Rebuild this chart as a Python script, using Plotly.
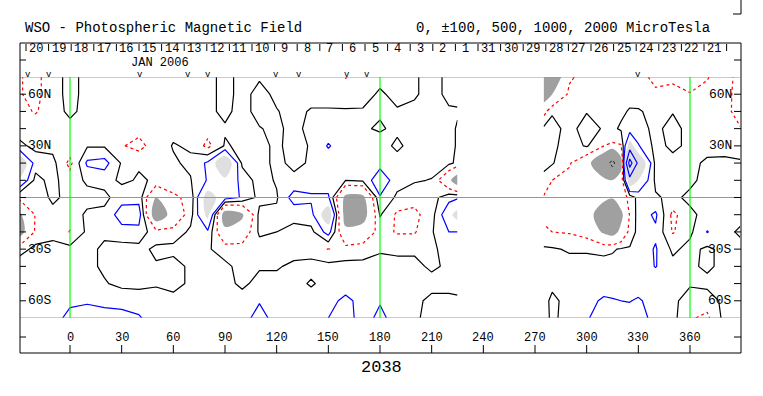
import plotly.graph_objects as go

# ---------------- data ----------------
lats = [70, 60, 50, 40, 30, 20, 10, 0, -10, -20, -30, -40, -50, -60, -70]

# Carrington longitudes of the two observed segments (data gap ~226..273)
lon_left = [-30, -20, -10, 0, 10, 20, 30, 40, 50, 60, 70, 80, 90, 100, 110, 120, 130, 140,
            150, 160, 170, 180, 190, 200, 210, 220, 225]
lon_right = [275, 280, 290, 300, 310, 315, 320, 325, 330, 340, 350, 360, 370, 380, 390]

# photospheric field (microtesla), one list per latitude row
left_n70 = [-90, -130, -40, 30, -30, -40, -40, -40, -40, -40, -40, -30, 30, -30, -10, -30, -40, -40, -40, -105, -40, -30, -30, -10, 30, -20, -30]
left_n60 = [-90, -130, -40, 30, -30, -40, -40, -40, -40, -40, -40, -30, 30, -30, 30, -20, -40, -40, -40, -50, -40, 15, -30, -10, 30, -20, -30]
left_n50 = [-60, -110, -40, 20, -30, -40, -40, -40, -40, -40, -40, -20, 20, -30, 30, 5, -30, 10, 10, 10, 10, 10, 10, 20, 30, 10, 10]
left_n40 = [-30, -40, -30, -30, -40, -40, -60, -60, -40, -20, -10, -60, -10, -30, -5, 20, -30, 30, 40, 40, 10, -10, 20, 30, 30, 30, -10]
left_n30 = [20, -20, -30, -40, -10, -10, -90, -140, -40, 5, -10, -130, 10, -20, -30, 20, -40, 10, 110, 40, 40, 40, -20, 40, 40, 30, -10]
left_n20 = [450, 40, 30, -130, 120, 140, -10, -10, -10, -10, 15, 120, 420, -20, -30, 20, -20, 10, 40, 40, 40, 60, 40, 20, 40, 20, -20]
left_n10 = [250, -30, 30, -60, 20, 40, -20, 10, -10, -10, -5, 110, 220, 60, -40, 10, 20, 30, 30, 0, 20, 180, 40, 10, -5, -250, -450]
left_eq = [-80, -60, 20, -30, -40, -30, 60, 60, -300, -130, -60, 340, 150, 90, -30, -10, 150, 120, 120, -350, -350, 90, -20, -60, -40, 60, 80]
left_s10 = [-350, -90, -30, -60, 20, 30, 150, 160, -450, -220, -40, 300, -420, -330, 30, 20, 30, 60, 380, -400, -400, 10, -120, -130, -40, 200, 320]
left_s20 = [-420, -80, -30, -105, 20, 20, 60, 60, -60, -60, 20, 80, -250, -200, 20, 0, -30, -30, 150, -250, -200, -60, -110, -110, -10, 100, 100]
left_s30 = [-50, 30, 30, 30, 30, -20, -40, -30, 20, 30, 30, 10, -40, -50, -50, -50, -40, -40, -105, -60, -50, -10, -20, -20, -10, 20, 20]
left_s40 = [60, 40, 30, 30, 30, -20, -50, -40, -10, -40, 20, 30, 20, -30, -10, -10, 20, 30, 30, 30, 30, 30, 30, 30, -20, 20, 30]
left_s50 = [40, 40, 40, 40, 40, 10, -30, -30, -10, -40, 20, 40, 30, -20, 30, 30, 30, -10, 30, 40, 40, 40, 40, 40, 40, 40, 40]
left_s60 = [60, 50, 50, 80, 90, 80, 80, 60, 40, 40, 40, 30, 40, 40, 90, 40, 40, 40, 60, 130, 60, 90, 40, 30, -30, -30, -20]
left_s70 = [70, 60, 60, 130, 140, 130, 120, 110, 50, 50, 50, 50, 50, 50, 150, 50, 50, 50, 100, 150, 50, 130, 50, 20, -40, -40, -20]

right_n70 = [-600, -500, -120, -50, -40, -40, -40, -40, -60, -130, -120, -150, -105, -60, -140]
right_n60 = [-450, -300, -70, -40, -40, -40, -40, -40, -50, -80, -70, -95, -80, -70, -140]
right_n50 = [-150, -10, -40, -5, -30, -30, -20, 10, 10, -30, -5, -40, -60, -80, -130]
right_n40 = [20, 30, -30, 40, -10, -20, 15, 30, 30, -20, 30, -30, -60, -50, -100]
right_n30 = [20, 20, -40, 10, -100, -120, -110, 350, 110, -30, 20, -20, -40, -50, -80]
right_n20 = [20, 10, -90, -200, -600, -1200, -400, 1200, 450, -30, -30, -30, 20, 30, 20]
right_n10 = [-20, -100, -130, -150, -250, -280, -180, 400, 250, -20, -30, -20, 30, 40, 30]
right_eq = [-110, -150, -120, -150, -250, -280, -180, -60, 30, 10, -20, 20, 40, 30, 20]
right_s10 = [-150, -130, -110, -200, -450, -600, -350, -90, 40, 120, -130, -20, 30, 30, 30]
right_s20 = [-60, -100, -110, -150, -330, -380, -250, -60, 30, 80, -110, -20, 105, 30, -20]
right_s30 = [10, 10, -10, -10, -20, -10, 10, 10, 40, 110, -20, 30, -20, 30, 30]
right_s40 = [40, 30, 30, 30, 30, 30, 30, 30, 40, 105, 30, 20, -20, 30, 20]
right_s50 = [30, 20, 40, 40, 40, 40, 40, 40, 40, 30, 30, 10, 30, 30, 30]
right_s60 = [30, -20, 30, 60, 120, 110, 100, 95, 115, 50, 20, -40, -60, 30, 30]
right_s70 = [40, -20, 40, 90, 150, 150, 150, 150, 150, 60, 30, -90, -120, 30, 40]

z_left = [left_n70, left_n60, left_n50, left_n40, left_n30, left_n20, left_n10, left_eq,
          left_s10, left_s20, left_s30, left_s40, left_s50, left_s60, left_s70]
z_right = [right_n70, right_n60, right_n50, right_n40, right_n30, right_n20, right_n10, right_eq,
           right_s10, right_s20, right_s30, right_s40, right_s50, right_s60, right_s70]

# header / axis text
title_text = "WSO - Photospheric Magnetic Field"
levels_text = "0, \u00b1100, 500, 1000, 2000 MicroTesla"
day_labels = ["20", "19", "18", "17", "16", "15", "14", "13", "12", "11", "10", "9", "8", "7", "6",
              "5", "4", "3", "2", "1", "31", "30", "29", "28", "27", "26", "25", "24", "23", "22", "21"]
month_label = "JAN 2006"
obs_marks_lon = [-24.4, -12.2, 40.6, 68.5, 80.1, 119.6, 133.0, 160.8, 172.5, 329.8]
lon_ticks = [0, 30, 60, 90, 120, 150, 180, 210, 240, 270, 300, 330, 360]
lat_labels = {60: "60N", 30: "30N", -30: "30S", -60: "60S"}
rotation_label = "2038"

# ---------------- figure ----------------
FONT = "Liberation Mono"
W, H = 763, 396
L, R, T, B = 20, 740, 77, 318   # plot area in pixels
LIGHT, DARK = "#dfdfdf", "#a0a0a0"
SHADE_POS, SHADE_NEG = 250, -300


def PX(x):
    return (x - L) / (R - L)


def PY(y):
    return (B - y) / (B - T)


def field_traces(lon, z):
    base = dict(x=lon, y=lats, showscale=False, hoverinfo="skip")
    z_flip = [[-v for v in row] for row in z]
    # plotly shades the region that fails a constraint: "> v" shades values <= v
    return [
        go.Contour(**base, z=z, contours=dict(type="constraint", operation=">", value=SHADE_NEG),
                   fillcolor=DARK, line=dict(width=0, color="rgba(0,0,0,0)")),
        go.Contour(**base, z=z_flip, contours=dict(type="constraint", operation=">", value=-SHADE_POS),
                   fillcolor=LIGHT, line=dict(width=0, color="rgba(0,0,0,0)")),
        go.Contour(**base, z=z, autocontour=False,
                   contours=dict(coloring="lines", start=0, end=0.5, size=1),
                   colorscale=[[0, "#000000"], [1, "#000000"]], line=dict(width=1.2, smoothing=0)),
        go.Contour(**base, z=z, autocontour=False,
                   contours=dict(coloring="lines", start=100, end=1000, size=450),
                   colorscale=[[0, "#0000ff"], [1, "#0000ff"]], line=dict(width=1.2, smoothing=0)),
        go.Contour(**base, z=z, autocontour=False,
                   contours=dict(coloring="lines", start=-100, end=-99, size=50),
                   colorscale=[[0, "#ff0000"], [1, "#ff0000"]], line=dict(width=1.2, dash="dot", smoothing=0)),
        go.Contour(**base, z=z, autocontour=False,
                   contours=dict(coloring="lines", start=-1000, end=-999, size=50),
                   colorscale=[[0, "#000000"], [1, "#000000"]], line=dict(width=1, dash="dot", smoothing=0)),
    ]


fig = go.Figure()
for tr in field_traces(lon_left, z_left) + field_traces(lon_right, z_right):
    fig.add_trace(tr)

shapes = []
GREEN = "#00ff00"
# green reference grid
for lo in (0, 180, 360):
    shapes.append(dict(type="line", xref="x", yref="y", x0=lo, x1=lo, y0=-70, y1=70,
                       line=dict(color=GREEN, width=1.2)))
for la in (-70, 0, 70):
    shapes.append(dict(type="line", xref="paper", yref="y", x0=0, x1=1, y0=la, y1=la,
                       line=dict(color=GREEN, width=1.2)))
# outer frame
shapes.append(dict(type="rect", xref="paper", yref="paper", x0=PX(20), x1=PX(741), y0=PY(353), y1=PY(43),
                   line=dict(color="black", width=1)))
# stray corner mark top-right
shapes.append(dict(type="line", xref="paper", yref="paper", x0=PX(741), x1=PX(741), y0=PY(0), y1=PY(14),
                   line=dict(color="black", width=1)))
shapes.append(dict(type="line", xref="paper", yref="paper", x0=PX(733), x1=PX(741), y0=PY(14), y1=PY(14),
                   line=dict(color="black", width=1)))
# day separators in header
for k in range(len(day_labels) + 1):
    xx = 26 + 22.6 * k
    shapes.append(dict(type="line", xref="paper", yref="paper", x0=PX(xx), x1=PX(xx), y0=PY(51), y1=PY(44),
                       line=dict(color="black", width=1)))
# border latitude ticks
for la in range(-60, 61, 10):
    shapes.append(dict(type="line", xref="paper", yref="y", x0=PX(20), x1=PX(26), y0=la, y1=la,
                       line=dict(color="black", width=1)))
    shapes.append(dict(type="line", xref="paper", yref="y", x0=PX(734), x1=PX(741), y0=la, y1=la,
                       line=dict(color="black", width=1)))
for yy in (60, 337):
    shapes.append(dict(type="line", xref="paper", yref="paper", x0=PX(20), x1=PX(26), y0=PY(yy), y1=PY(yy),
                       line=dict(color="black", width=1)))
    shapes.append(dict(type="line", xref="paper", yref="paper", x0=PX(734), x1=PX(741), y0=PY(yy), y1=PY(yy),
                       line=dict(color="black", width=1)))
# longitude ticks on bottom frame
for lo in lon_ticks:
    shapes.append(dict(type="line", xref="x", yref="paper", x0=lo, x1=lo, y0=PY(353), y1=PY(345),
                       line=dict(color="black", width=1)))

ann = []


def text(x, y, s, size, xanchor="center", xref="paper", yref="paper"):
    ann.append(dict(x=x, y=y, xref=xref, yref=yref, text=s, showarrow=False, xanchor=xanchor,
                    yanchor="middle", borderpad=0,
                    font=dict(family=FONT, size=size, color="black")))


text(PX(24), PY(27.5), title_text, 14, xanchor="left")
text(PX(415), PY(27.5), levels_text, 14, xanchor="left")
for k, d in enumerate(day_labels):
    text(PX(36 + 22.6 * k), PY(49), d, 12)
text(PX(160), PY(63), month_label, 12)
for lo in obs_marks_lon:
    text(lo, PY(75), "v", 9, xref="x")
for la, s in lat_labels.items():
    text(PX(27), la, s, 13, xanchor="left", yref="y")
    text(PX(733), la, s, 13, xanchor="right", yref="y")
for lo in lon_ticks:
    text(lo, PY(338), str(lo), 12, xref="x")
text(PX(381), PY(367), rotation_label, 17)

fig.update_layout(
    width=W, height=H,
    margin=dict(l=L, r=W - R, t=T, b=H - B),
    paper_bgcolor="white", plot_bgcolor="white",
    showlegend=False,
    xaxis=dict(range=[-29.03, 389.03], visible=False, fixedrange=True),
    yaxis=dict(range=[-70, 70], visible=False, fixedrange=True),
    shapes=shapes, annotations=ann,
)

fig.write_html("out.html", config={"displayModeBar": False, "staticPlot": True},
               post_script="document.body.style.margin='0px';document.body.style.padding='0px';")
